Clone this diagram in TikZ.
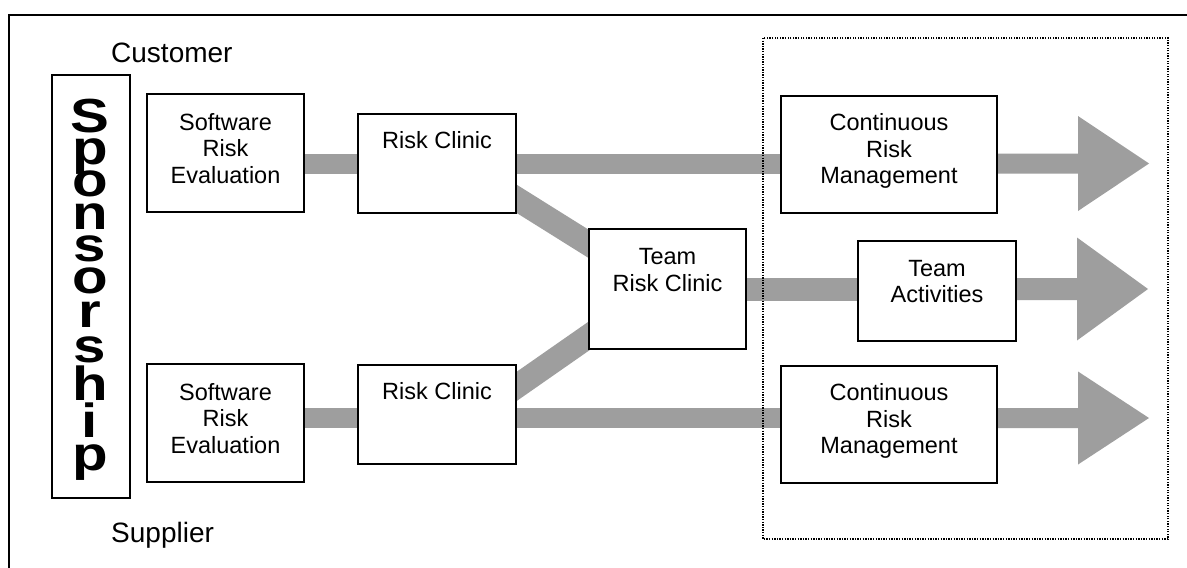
\documentclass[tikz,border=0pt]{standalone}
\usepackage{fontspec}
\setmainfont{Liberation Sans}
\usetikzlibrary{calc}
\definecolor{bandgray}{RGB}{158,158,158}

% fat arrow: #1 start of shaft, #2 tip, #3 half height of head, #4 half height of shaft
\newcommand\fatarrow[4]{%
  \fill[bandgray] ($(#1)+(0,-#4)$) -- ($(#2)+(-71,-#4)$) -- ($(#2)+(-71,-#3)$) -- (#2)
    -- ($(#2)+(-71,#3)$) -- ($(#2)+(-71,#4)$) -- ($(#1)+(0,#4)$) -- cycle;}

\begin{document}
\begin{tikzpicture}[x=1pt,y=-1pt,
  box/.style={draw=black, line width=1.6pt, fill=white, inner sep=0pt},
  boxtext/.style={inner sep=0pt, align=center, font=\fontsize{23.5}{26.5}\selectfont},
  sidelabel/.style={inner sep=0pt, anchor=base west, font=\fontsize{28}{32}\selectfont},
  sletter/.style={inner sep=0pt, anchor=base, font=\fontsize{52}{52}\selectfont\bfseries},
  band/.style={draw=bandgray, line width=20pt},
  slant/.style={draw=bandgray, line width=24pt, shorten <=-15pt, shorten >=-15pt}]
\useasboundingbox (0,0) rectangle (1187,568);
\clip (0,0) rectangle (1187,568);
\fill[white] (0,0) rectangle (1187,568);

% outer frame (runs past the right and bottom edges)
\draw[line width=1.5pt] (9,15) rectangle (1200,580);

% boxes are placed first so the bands can refer to them; they are redrawn on top below
\path
  node[box, minimum width=155pt, minimum height=116pt] (sre1) at (225.5,153) {}
  node[box, minimum width=155pt, minimum height=116pt] (sre2) at (225.5,423) {}
  node[box, minimum width=156pt, minimum height=97pt]  (rc1)  at (437,163.5) {}
  node[box, minimum width=156pt, minimum height=97pt]  (rc2)  at (437,414.5) {}
  node[box, minimum width=155pt, minimum height=118pt] (team) at (667.5,289) {}
  node[box, minimum width=156pt, minimum height=98pt]  (ta)   at (937,291) {}
  node[box, minimum width=214pt, minimum height=115pt] (crm1) at (889,154.5) {}
  node[box, minimum width=214pt, minimum height=115pt] (crm2) at (889,424.5) {};

% lanes and arrow tips
\coordinate (lane2) at (0,418);
\coordinate (tip1) at (1149,163.5);
\coordinate (tip2) at (1148,289);
\coordinate (tip3) at (1149,418);
\coordinate (a1) at (crm1.east |- tip1);
\coordinate (a2) at (ta.east |- tip2);
\coordinate (a3) at (crm2.east |- tip3);

% gray bands between the boxes
\draw[band] (rc1.west -| sre1.east) -- (rc1.west);
\draw[band] (rc1.east) -- (rc1.east -| crm1.west);
\draw[band] (sre2.east |- lane2) -- (rc2.west |- lane2);
\draw[band] (rc2.east |- lane2) -- (crm2.west |- lane2);
\draw[band, line width=23pt] (team.east) -- (team.east -| ta.west);
\draw[slant] ($(rc1.south east)+(0,-14.5)$) -- ($(team.north west)+(0,15)$);
\draw[slant] ($(rc2.east)+(0,-27.5)$) -- ($(team.south west)+(0,-13)$);

% outgoing arrows
\fatarrow{a1}{tip1}{47.5}{10}
\fatarrow{a2}{tip2}{51.5}{11}
\fatarrow{a3}{tip3}{46.5}{10}

% boxes on top of the bands
\foreach \b in {sre1,sre2,rc1,rc2,team,ta,crm1,crm2}
  \draw[line width=1.6pt, fill=white] (\b.north west) rectangle (\b.south east);

% box texts
\node[boxtext] (tsre1) at ($(sre1.center)+(0,-4.5)$) {Software\\Risk\\Evaluation};
\node[boxtext] (tsre2) at ($(sre2.center)+(0,-4.5)$) {Software\\Risk\\Evaluation};
\node[boxtext] (trc1) at ($(rc1.north)+(0,25.5)$) {Risk Clinic};
\node[boxtext] (trc2) at ($(rc2.north)+(0,25.5)$) {Risk Clinic};
\node[boxtext] (tteam) at ($(team.center)+(0,-19)$) {Team\\Risk Clinic};
\node[boxtext] (tta) at ($(ta.center)+(0,-9.5)$) {Team\\Activities};
\node[boxtext] (tcrm1) at ($(crm1.center)+(0,-3.5)$) {Continuous\\Risk\\Management};
\node[boxtext] (tcrm2) at ($(crm2.center)+(0,-3.5)$) {Continuous\\Risk\\Management};

% sponsorship column, one widened letter per line
\node[draw=black, line width=1.5pt, inner sep=0pt, minimum width=78pt, minimum height=423pt]
  (spons) at (91,286.5) {};
\foreach \l/\yb [count=\i] in {S/132,p/164,o/196,n/229,s/261,o/293,r/327,s/362,h/400,i/437,p/470}
  \node[sletter] (sp\i) at (90,\yb) {\scalebox{1.12}[0.92]{\l}};

% side labels
\node[sidelabel] (customer) at (111,62) {Customer};
\node[sidelabel] (supplier) at (111,542) {Supplier};

% dotted frame around the continuing activities
\draw[line width=1.3pt, dash pattern=on 1.3pt off 1.3pt] (763,38) rectangle (1168,539);
\end{tikzpicture}
\end{document}
